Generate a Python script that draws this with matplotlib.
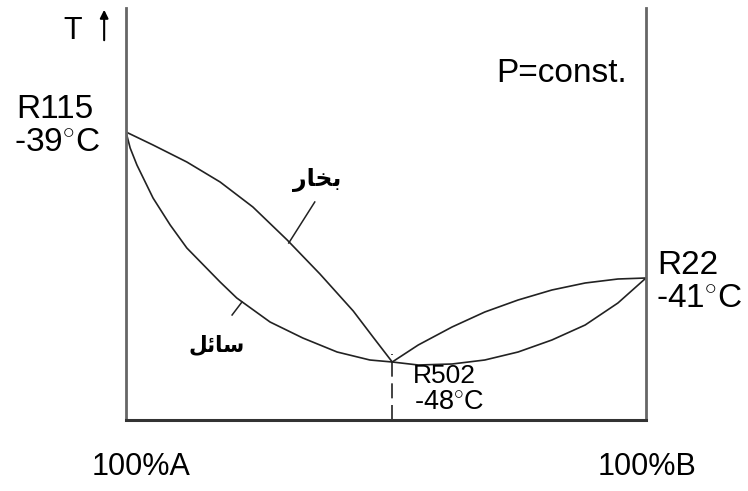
import matplotlib
matplotlib.use("Agg")
import matplotlib.pyplot as plt

plt.rcParams['font.family'] = ['Liberation Sans', 'DejaVu Sans']
plt.rcParams['mathtext.fontset'] = 'custom'
plt.rcParams['mathtext.rm'] = 'Liberation Sans'
plt.rcParams['lines.solid_joinstyle'] = 'round'

# pure components and the azeotrope (R502)
names = ["R115", "R502", "R22"]
temps = [-39, -48, -41]
comp_x = [0.0, 0.512, 1.0]
comp_h = [288, 58, 142]   # schematic height of T on the diagram

# left loop (A side): vapour curve and liquid curve
vap_l_x = [0, 0.052, 0.117, 0.181, 0.244, 0.310, 0.373, 0.437, 0.475, 0.512]
vap_l_y = [288, 275, 258, 238, 213, 180, 146, 109, 83, 58]
liq_l_x = [0, 0.008, 0.021, 0.052, 0.085, 0.117, 0.181, 0.213, 0.277, 0.340, 0.406, 0.469, 0.512]
liq_l_y = [288, 272, 255, 222, 195, 172, 138, 122, 98, 82, 68, 60, 58]

# right loop (B side)
vap_r_x = [0.512, 0.562, 0.627, 0.690, 0.754, 0.819, 0.883, 0.946, 1.0]
vap_r_y = [58, 75, 93, 108, 120, 130, 137, 141, 142]
liq_r_x = [0.512, 0.562, 0.627, 0.690, 0.754, 0.819, 0.883, 0.946, 1.0]
liq_r_y = [58, 55, 56, 60, 68, 80, 95, 117, 142]

# arabic labels, pre-shaped (presentation forms, visual order)
vapour_lbl = "\uFEAD\uFE8E\uFEA8\uFE91"   # بخار
liquid_lbl = "\uFEDE\uFE8B\uFE8E\uFEB3"   # سائل

fig = plt.figure(figsize=(7.48, 4.91), dpi=100)
ax = fig.add_axes([126/748, 71/491, 520/748, 412/491])
ax.set_xlim(0, 1)
ax.set_ylim(0, 412)
ax.set_xticks([])
ax.set_yticks([])
ax.spines['top'].set_visible(False)
for s in ['left', 'right']:
    ax.spines[s].set_color('#666666')
    ax.spines[s].set_linewidth(2.0)
ax.spines['bottom'].set_color('#333333')
ax.spines['bottom'].set_linewidth(2.2)

lc = '#222222'
ax.plot(vap_l_x, vap_l_y, color=lc, lw=1.2)
ax.plot(liq_l_x, liq_l_y, color=lc, lw=1.2)
ax.plot(vap_r_x, vap_r_y, color=lc, lw=1.2)
ax.plot(liq_r_x, liq_r_y, color=lc, lw=1.2)

# dashed drop line from azeotrope
ax.plot([comp_x[1], comp_x[1]], [0, comp_h[1] + 8], color=lc, lw=1.2,
        dashes=(9, 4), clip_on=False)

# leader lines for phase labels
ax.plot([0.313, 0.363], [177, 218], color=lc, lw=1.1)
ax.plot([0.223, 0.204], [118, 105], color=lc, lw=1.1)
ax.text(0.367, 240, vapour_lbl, family=['DejaVu Sans'], fontweight='bold',
        fontsize=17, ha='center', va='center')
ax.text(0.175, 75, liquid_lbl, family=['DejaVu Sans'], fontweight='bold',
        fontsize=15.5, ha='center', va='center')

fs = 24
def label(x, y, txt, size=fs, ha='center'):
    ax.text(x, y, txt, fontsize=size, ha=ha, va='center', clip_on=False)

# component labels
label(-0.137, 311, names[0])
label(-0.132, 277, "%d$^{\\circ}$C" % temps[0])
label(0.612, 44, names[1], size=19)
label(0.622, 17, "%d$^{\\circ}$C" % temps[1], size=19.5)
label(1.022, 155, names[2], ha='left')
label(1.020, 120, "%d$^{\\circ}$C" % temps[2], ha='left')

label(0.838, 347, "P=const.")
label(0.029, -47, "100%A", size=22)
label(1.002, -47, "100%B", size=22)

# temperature axis marker
label(-0.102, 389, "T", size=22)
ax.annotate("", xy=(-0.042, 413), xytext=(-0.042, 377),
            arrowprops=dict(arrowstyle='-|>', color='black', lw=1.5,
                            mutation_scale=12),
            annotation_clip=False)

fig.savefig("out.png", dpi=100)
